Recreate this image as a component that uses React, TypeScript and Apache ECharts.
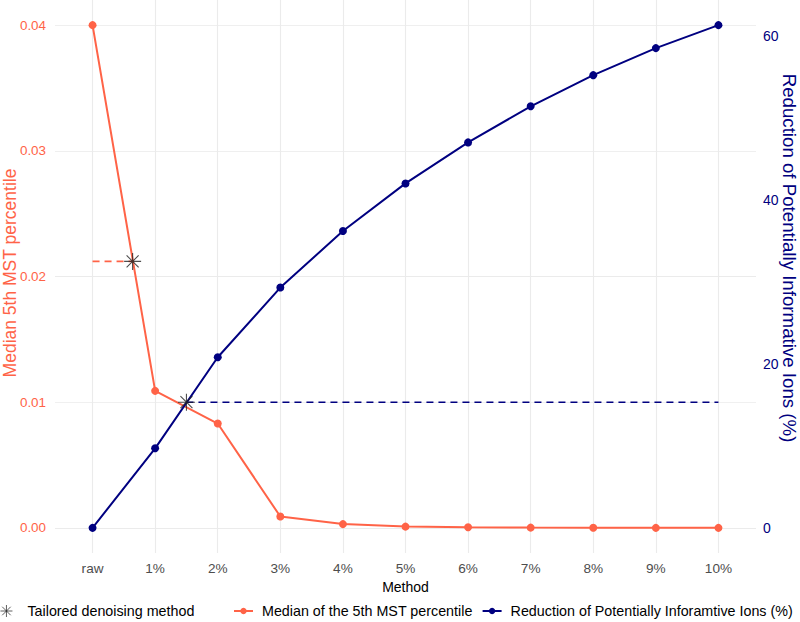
import React, { useEffect, useRef } from 'react';
import * as echarts from 'echarts';

// Denoising levels on the x axis
const methods = ['raw', '1%', '2%', '3%', '4%', '5%', '6%', '7%', '8%', '9%', '10%'];
// Median of the 5th MST percentile (left axis)
const medianMst5th = [0.04, 0.0109, 0.0083, 0.0009, 0.0003, 0.0001, 0.00005, 0.00002, 0.00001, 0, 0];
// Reduction of potentially informative ions, % (right axis)
const ionReduction = [0, 9.7, 20.8, 29.3, 36.2, 42.0, 47.0, 51.4, 55.2, 58.5, 61.3];
// Tailored denoising method markers (x in method units, y on left axis)
const tailoredX = [0.64, 1.5];
const tailoredY = [0.0212, 0.01];

const leftTicks = [0, 0.01, 0.02, 0.03, 0.04];
const leftMinorTicks = [0.005, 0.015, 0.025, 0.035];
const rightTicks = [0, 20, 40, 60];

// secondary axis transform: right = left * secScale
const secScale = 61.3 / 0.04;
const leftMin = -0.002;
const leftMax = 0.042;
const xMin = -0.6;
const xMax = 10.6;

const RED = '#FF6347';
const NAVY = '#000080';
const FONT = 'Liberation Sans, Arial, sans-serif';

const STAR =
  'path://M0,0L0,20M-10,10L10,10M-7.07,2.93L7.07,17.07M-7.07,17.07L7.07,2.93';

export default function App() {
  const ref = useRef<HTMLDivElement>(null);

  useEffect(() => {
    if (!ref.current) return;
    const chart = echarts.init(ref.current, undefined, { renderer: 'svg' });

    const gridLines: any[] = [
      ...leftTicks.map((v) => ({ yAxis: v, lineStyle: { color: '#ebebeb', width: 1.1, type: 'solid' } })),
      ...leftMinorTicks.map((v) => ({ yAxis: v, lineStyle: { color: '#f0f0f0', width: 0.8, type: 'solid' } })),
      ...methods.map((_, i) => ({ xAxis: i, lineStyle: { color: '#ebebeb', width: 1.1, type: 'solid' } })),
    ];

    chart.setOption({
      animation: false,
      textStyle: { fontFamily: FONT },
      grid: { left: 55, top: 0, width: 701, height: 553, containLabel: false },
      xAxis: {
        type: 'value',
        min: xMin,
        max: xMax,
        name: 'Method',
        nameLocation: 'middle',
        nameGap: 25,
        nameTextStyle: { color: '#000', fontSize: 14, fontFamily: FONT, verticalAlign: 'top' },
        axisLine: { show: false },
        axisTick: { show: false },
        splitLine: { show: false },
        axisLabel: {
          customValues: methods.map((_, i) => i),
          formatter: (v: number) => methods[Math.round(v)] ?? '',
          color: '#4d4d4d',
          fontSize: 13.6,
          margin: 8,
          fontFamily: FONT,
        },
      },
      yAxis: [
        {
          type: 'value',
          min: leftMin,
          max: leftMax,
          axisLine: { show: false },
          axisTick: { show: false },
          splitLine: { show: false },
          axisLabel: {
            customValues: leftTicks,
            formatter: (v: number) => v.toFixed(2),
            color: RED,
            fontSize: 13.4,
            margin: 9,
            fontFamily: FONT,
          },
        },
        {
          type: 'value',
          position: 'right',
          min: leftMin * secScale,
          max: leftMax * secScale,
          axisLine: { show: false },
          axisTick: { show: false },
          splitLine: { show: false },
          axisLabel: {
            customValues: rightTicks,
            formatter: (v: number) => String(Math.round(v)),
            color: NAVY,
            fontSize: 14,
            margin: 7,
            fontFamily: FONT,
          },
        },
      ],
      legend: [
        {
          data: [
            {
              name: 'Tailored denoising method',
              itemStyle: { color: 'rgba(0,0,0,0)', borderColor: '#222', borderWidth: 0.9 },
            },
          ],
          left: 0,
          top: 604,
          padding: 0,
          itemWidth: 12,
          itemHeight: 12,
          textStyle: { fontSize: 14.3, color: '#000', fontFamily: FONT, padding: [0, 0, 0, 10] },
          selectedMode: false,
        },
        {
          data: ['Median of the 5th MST percentile', 'Reduction of Potentially Inforamtive Ions (%)'],
          left: 233,
          top: 604,
          width: 640,
          padding: 0,
          itemWidth: 19,
          itemHeight: 8,
          itemGap: 9,
          textStyle: { fontSize: 14.3, color: '#000', fontFamily: FONT, padding: [0, 0, 0, 4] },
          selectedMode: false,
        },
      ],
      graphic: [
        {
          type: 'text',
          x: 9.5,
          y: 273,
          rotation: Math.PI / 2,
          style: {
            text: 'Median 5th MST percentile',
            fill: RED,
            font: `17.5px ${FONT}`,
            textAlign: 'center',
            textVerticalAlign: 'middle',
          },
        },
        {
          type: 'text',
          x: 789.5,
          y: 258,
          rotation: -Math.PI / 2,
          style: {
            text: 'Reduction of Potentially Informative Ions (%)',
            fill: NAVY,
            font: `18.7px ${FONT}`,
            textAlign: 'center',
            textVerticalAlign: 'middle',
          },
        },
      ],
      series: [
        {
          name: 'gridlines',
          type: 'line',
          data: [],
          silent: true,
          markLine: {
            silent: true,
            z: 1,
            symbol: ['none', 'none'],
            label: { show: false },
            emphasis: { disabled: true },
            data: gridLines,
          },
        },
        {
          name: 'Median of the 5th MST percentile',
          type: 'line',
          yAxisIndex: 0,
          z: 3,
          data: methods.map((_, i) => [i, medianMst5th[i]]),
          symbol: 'circle',
          symbolSize: 8,
          itemStyle: { color: RED },
          lineStyle: { color: RED, width: 2 },
        },
        {
          name: 'Reduction of Potentially Inforamtive Ions (%)',
          type: 'line',
          yAxisIndex: 1,
          z: 3,
          data: methods.map((_, i) => [i, ionReduction[i]]),
          symbol: 'circle',
          symbolSize: 8,
          itemStyle: { color: NAVY },
          lineStyle: { color: NAVY, width: 2 },
        },
        {
          name: 'tailored-red-guide',
          type: 'line',
          yAxisIndex: 0,
          z: 3,
          data: [
            [0, tailoredY[0]],
            [tailoredX[0], tailoredY[0]],
          ],
          showSymbol: false,
          symbol: 'none',
          lineStyle: { color: RED, width: 1.6, type: [7, 5] },
        },
        {
          name: 'tailored-navy-guide',
          type: 'line',
          yAxisIndex: 0,
          z: 3,
          data: [
            [tailoredX[1], tailoredY[1]],
            [methods.length - 1, tailoredY[1]],
          ],
          showSymbol: false,
          symbol: 'none',
          lineStyle: { color: NAVY, width: 1.5, type: [7, 5] },
        },
        {
          name: 'Tailored denoising method',
          type: 'scatter',
          yAxisIndex: 0,
          z: 6,
          data: tailoredX.map((x, i) => [x, tailoredY[i]]),
          symbol: STAR,
          symbolSize: 17,
          itemStyle: { color: 'rgba(0,0,0,0)', borderColor: '#222', borderWidth: 1.1 },
        },
      ],
    });

    return () => chart.dispose();
  }, []);

  return (
    <div
      ref={ref}
      style={{ position: 'fixed', left: 0, top: 0, width: 800, height: 622, background: '#fff' }}
    />
  );
}
